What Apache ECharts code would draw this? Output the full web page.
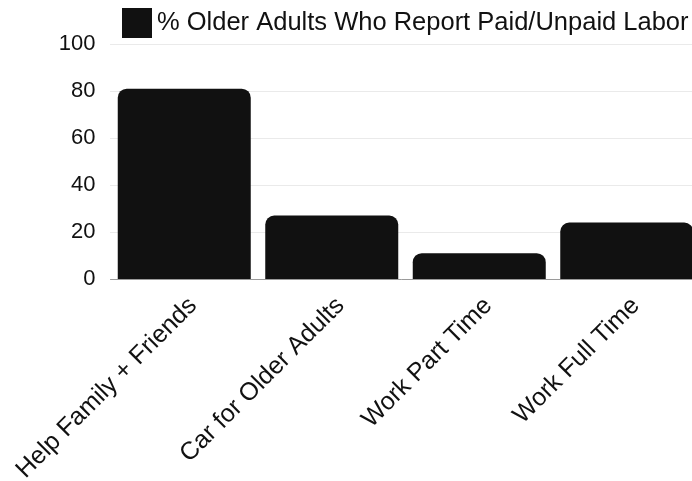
<!DOCTYPE html>
<html>
<head>
<meta charset="utf-8">
<style>
  html, body { margin: 0; padding: 0; background: #ffffff; }
  #chart { width: 692px; height: 481px; }
</style>
<script src="https://cdn.jsdelivr.net/npm/echarts@6/dist/echarts.min.js"></script>
</head>
<body>
<div id="chart"></div>
<script>
// Share of older adults reporting each kind of paid or unpaid labor (%)
const categories = ['Help Family + Friends', 'Car for Older Adults', 'Work Part Time', 'Work Full Time'];
const seriesName = '% Older Adults Who Report Paid/Unpaid Labor';
const percentValues = [81, 27, 11, 24];
const yTicks = { min: 0, max: 100, interval: 20 };

const FONT = 'Liberation Sans, Arial, sans-serif';
const chart = echarts.init(document.getElementById('chart'), null, { renderer: 'canvas' });

chart.setOption({
  animation: false,
  backgroundColor: '#ffffff',
  legend: {
    left: 122,
    top: 8,
    padding: 0,
    itemWidth: 30,
    itemHeight: 30,
    icon: 'rect',
    selectedMode: false,
    textStyle: { fontFamily: FONT, fontSize: 25.5, color: '#111111' },
    data: [seriesName]
  },
  // the plot runs slightly past the right edge, so the last bar is cut off
  grid: { left: 110.5, top: 44, width: 590, height: 235, containLabel: false, outerBoundsMode: 'none' },
  xAxis: {
    type: 'category',
    data: categories,
    axisLine: { show: true, lineStyle: { color: '#9a9a9a', width: 1 } },
    axisTick: { show: false },
    axisLabel: {
      rotate: 45,
      interval: 0,
      margin: 14,
      verticalAlign: 'top',
      fontFamily: FONT,
      fontSize: 25,
      color: '#111111'
    },
    splitLine: { show: false }
  },
  yAxis: {
    type: 'value',
    min: yTicks.min,
    max: yTicks.max,
    interval: yTicks.interval,
    axisLine: { show: false },
    axisTick: { show: false },
    axisLabel: { margin: 15, fontFamily: FONT, fontSize: 22, color: '#111111' },
    splitLine: { show: true, lineStyle: { color: '#d4d4d4', type: 'dotted', width: 1 } }
  },
  series: [{
    name: seriesName,
    type: 'bar',
    data: percentValues,
    barWidth: 133,
    itemStyle: { color: '#111111', borderRadius: [9, 9, 0, 0] }
  }]
});
</script>
</body>
</html>
